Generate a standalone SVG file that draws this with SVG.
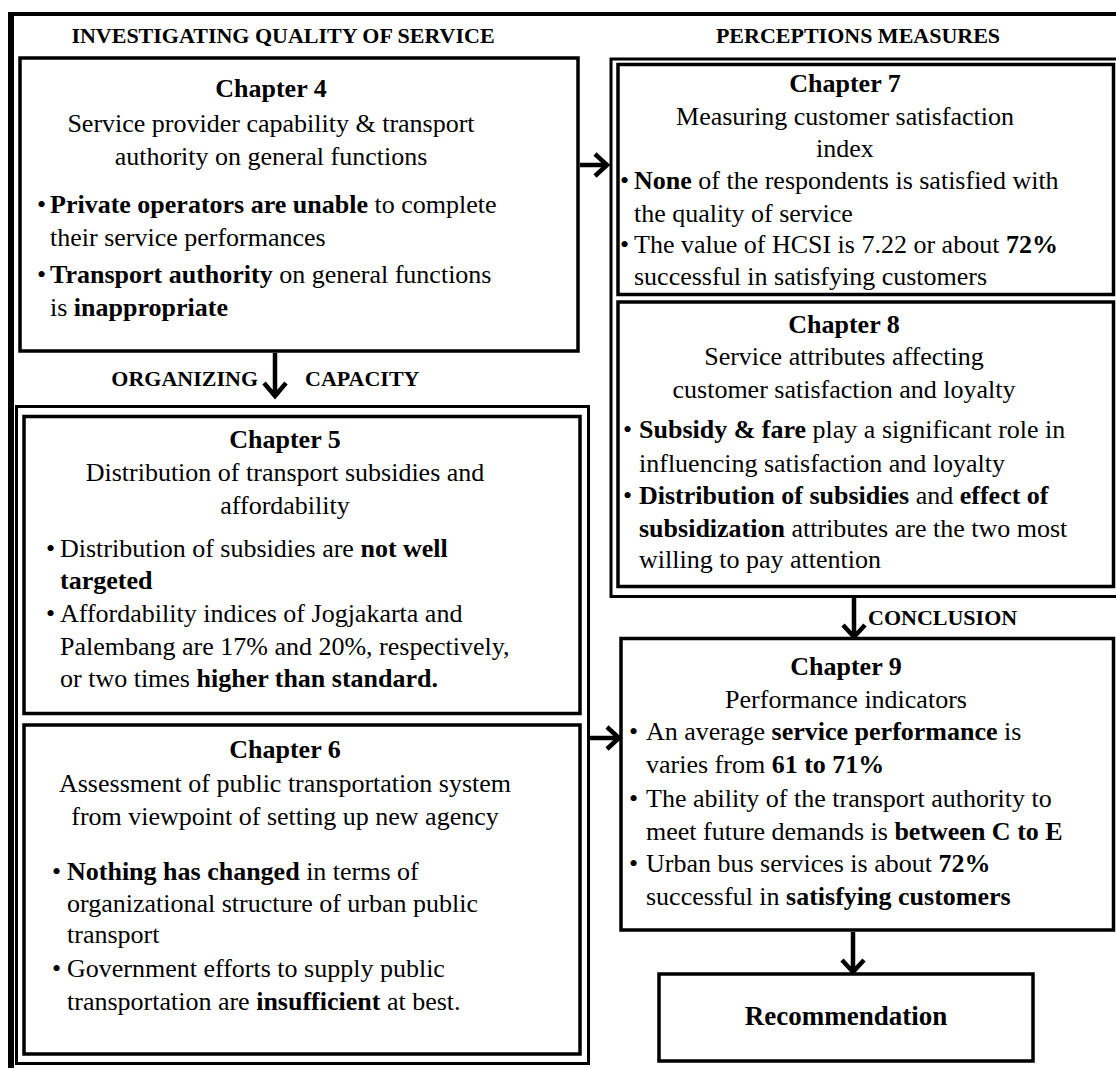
<svg xmlns="http://www.w3.org/2000/svg" width="1116" height="1068" viewBox="0 0 1116 1068">
  <style>
    text { font-family: "Liberation Serif", "Times New Roman", serif; font-size: 26px; fill: #000; }
    .c { text-anchor: middle; }
    .b { font-weight: bold; }
    .h { font-weight: bold; font-size: 22px; }
    .box { fill: none; stroke: #000; stroke-width: 3.5; }
    .grp { fill: none; stroke: #000; stroke-width: 3; }
    .arrow { fill: none; stroke: #000; stroke-width: 4.5; stroke-linejoin: miter; stroke-linecap: butt; }
  </style>

  <rect width="1116" height="1068" fill="#fff"/>

  <!-- outer frame (left and top edges) -->
  <rect x="8" y="12" width="6" height="1056" fill="#000"/>
  <rect x="8" y="12" width="1108" height="4" fill="#000"/>

  <!-- section headings -->
  <text class="h c" x="283" y="43">INVESTIGATING QUALITY OF SERVICE</text>
  <text class="h c" x="858" y="43">PERCEPTIONS MEASURES</text>
  <text class="h" x="258" y="386" text-anchor="end">ORGANIZING</text>
  <text class="h" x="305" y="386">CAPACITY</text>
  <text class="h" x="868" y="625">CONCLUSION</text>

  <!-- container frames -->
  <rect class="grp" x="16.5" y="406.5" width="572" height="657"/>
  <rect class="grp" x="611" y="59" width="520" height="537.5"/>

  <g id="ch4">
    <rect class="box" x="20" y="58" width="558" height="293"/>
    <text class="b c" x="271" y="97">Chapter 4</text>
    <text class="c" x="271" y="132">Service provider capability &amp; transport</text>
    <text class="c" x="271" y="165">authority on general functions</text>
    <text x="37" y="213">•</text>
    <text x="50" y="213"><tspan class="b">Private operators are unable</tspan> to complete</text>
    <text x="50" y="246">their service performances</text>
    <text x="37" y="283">•</text>
    <text x="50" y="283"><tspan class="b">Transport authority</tspan> on general functions</text>
    <text x="50" y="316">is <tspan class="b">inappropriate</tspan></text>
  </g>

  <g id="ch5">
    <rect class="box" x="24" y="416.5" width="556" height="297"/>
    <text class="b c" x="285" y="448">Chapter 5</text>
    <text class="c" x="285" y="481">Distribution of transport subsidies and</text>
    <text class="c" x="285" y="514">affordability</text>
    <text x="46" y="557">•</text>
    <text x="60" y="557">Distribution of subsidies are <tspan class="b">not well</tspan></text>
    <text class="b" x="60" y="589">targeted</text>
    <text x="46" y="622">•</text>
    <text x="60" y="622">Affordability indices of Jogjakarta and</text>
    <text x="60" y="655">Palembang are 17% and 20%, respectively,</text>
    <text x="60" y="687">or two times <tspan class="b">higher than standard.</tspan></text>
  </g>

  <g id="ch6">
    <rect class="box" x="24" y="725" width="556" height="329"/>
    <text class="b c" x="285" y="758">Chapter 6</text>
    <text class="c" x="285" y="792">Assessment of public transportation system</text>
    <text class="c" x="285" y="825">from viewpoint of setting up new agency</text>
    <text x="52" y="880">•</text>
    <text x="67" y="880"><tspan class="b">Nothing has changed</tspan> in terms of</text>
    <text x="67" y="912">organizational structure of urban public</text>
    <text x="67" y="943">transport</text>
    <text x="52" y="977">•</text>
    <text x="67" y="977">Government efforts to supply public</text>
    <text x="67" y="1010">transportation are <tspan class="b">insufficient</tspan> at best.</text>
  </g>

  <g id="ch7">
    <rect class="box" x="618" y="64.5" width="495.5" height="230"/>
    <text class="b c" x="845" y="92">Chapter 7</text>
    <text class="c" x="845" y="125">Measuring customer satisfaction</text>
    <text class="c" x="845" y="157">index</text>
    <text x="620" y="189">•</text>
    <text x="634" y="189"><tspan class="b">None</tspan> of the respondents is satisfied with</text>
    <text x="634" y="222">the quality of service</text>
    <text x="620" y="253">•</text>
    <text x="634" y="253">The value of HCSI is 7.22 or about <tspan class="b">72%</tspan></text>
    <text x="634" y="285">successful in satisfying customers</text>
  </g>

  <g id="ch8">
    <rect class="box" x="618" y="302" width="495.5" height="284.5"/>
    <text class="b c" x="844" y="333">Chapter 8</text>
    <text class="c" x="844" y="365">Service attributes affecting</text>
    <text class="c" x="844" y="398">customer satisfaction and loyalty</text>
    <text x="623" y="438">•</text>
    <text x="639" y="438"><tspan class="b">Subsidy &amp; fare</tspan> play a significant role in</text>
    <text x="639" y="472">influencing satisfaction and loyalty</text>
    <text x="623" y="504">•</text>
    <text x="639" y="504"><tspan class="b">Distribution of subsidies</tspan> and <tspan class="b">effect of</tspan></text>
    <text x="639" y="537"><tspan class="b">subsidization</tspan> attributes are the two most</text>
    <text x="639" y="568">willing to pay attention</text>
  </g>

  <g id="ch9">
    <rect class="box" x="621" y="638.5" width="492.5" height="291.5"/>
    <text class="b c" x="846" y="675">Chapter 9</text>
    <text class="c" x="846" y="708">Performance indicators</text>
    <text x="629" y="740">•</text>
    <text x="646" y="740">An average <tspan class="b">service performance</tspan> is</text>
    <text x="646" y="773">varies from <tspan class="b">61 to 71%</tspan></text>
    <text x="629" y="807">•</text>
    <text x="646" y="807">The ability of the transport authority to</text>
    <text x="646" y="840">meet future demands is <tspan class="b">between C to E</tspan></text>
    <text x="629" y="872">•</text>
    <text x="646" y="872">Urban bus services is about <tspan class="b">72%</tspan></text>
    <text x="646" y="905">successful in <tspan class="b">satisfying customers</tspan></text>
  </g>

  <g id="recommendation">
    <rect class="box" x="659" y="974" width="374" height="87"/>
    <text class="b c" x="846" y="1025" style="font-size:27px">Recommendation</text>
  </g>

  <g id="connectors">
    <!-- chapter 4 to chapter 7 -->
    <path class="arrow" d="M580 165 H605 M595 154 L607 165 L595 176"/>
    <!-- chapter 4 to chapter 5 -->
    <path class="arrow" d="M275 353 V394 M264 383 L275 396 L286 383"/>
    <!-- chapters 5-6 to chapter 9 -->
    <path class="arrow" d="M590 738 H617 M607 727 L619 738 L607 749"/>
    <!-- chapters 7-8 to chapter 9 -->
    <path class="arrow" d="M854 598 V635 M843 625 L854 637 L865 625"/>
    <!-- chapter 9 to recommendation -->
    <path class="arrow" d="M853 932 V970 M842 960 L853 972 L864 960"/>
  </g>
</svg>
